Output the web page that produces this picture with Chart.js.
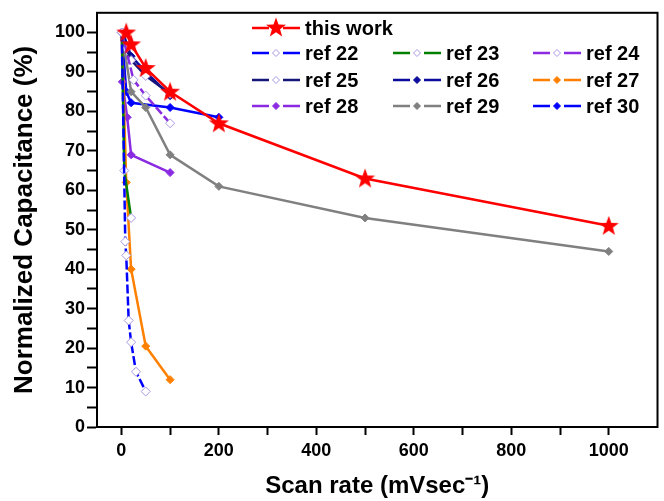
<!DOCTYPE html>
<html>
<head>
<meta charset="utf-8">
<script src="https://cdn.jsdelivr.net/npm/chart.js@4.4.0/dist/chart.umd.min.js"></script>
<style>
  body { margin: 0; background: #fff; }
  #wrap { width: 664px; height: 501px; }
</style>
</head>
<body>
<div id="wrap"><canvas id="myChart"></canvas></div>
<script>
// series data (scan rate in mV/s, normalized capacitance in %)
let seriesNames = ["this work", "ref 22", "ref 23", "ref 24", "ref 25", "ref 26", "ref 27", "ref 28", "ref 29", "ref 30"];

let rateThis = [10, 20, 50, 100, 200, 500, 1000];
let capThis = [100, 97, 91, 85, 77, 63, 51];

let rate22 = [1, 8, 10, 15, 20, 30, 50];
let cap22 = [100, 47, 43.5, 27, 21.5, 14, 9];

let rate23 = [1, 6, 20];
let cap23 = [100, 65, 53];

let rate24 = [1, 25, 50, 100];
let cap24 = [100, 88, 84, 77];

let rate25 = [1, 10, 20, 50, 100];
let cap25 = [100, 96, 93, 89, 84.5];

let rate26 = [3, 20, 50, 100];
let cap26 = [100, 94, 90, 84];

let rate27 = [1, 10, 20, 50, 100];
let cap27 = [100, 62, 40, 20.5, 12];

let rate28 = [1, 2, 12, 20, 100];
let cap28 = [100, 87.5, 78.5, 69, 64.5];

let rate29 = [1, 20, 50, 100, 200, 500, 1000];
let cap29 = [100, 85, 81, 69, 61, 53, 44.5];

let rate30 = [1, 10, 20, 100, 200];
let cap30 = [100, 85, 82.2, 81, 78.5];

let xTicks = [0, 200, 400, 600, 800, 1000];
let yTicks = [0, 10, 20, 30, 40, 50, 60, 70, 80, 90, 100];

function pts(xs, ys) {
  return xs.map((x, i) => ({ x: x, y: ys[i] }));
}

function starPath(c, cx, cy, ro, ri) {
  c.beginPath();
  for (let i = 0; i < 10; i++) {
    let r = i % 2 === 0 ? ro : ri;
    let a = -Math.PI / 2 + i * Math.PI / 5;
    let px = cx + r * Math.cos(a), py = cy + r * Math.sin(a);
    if (i === 0) c.moveTo(px, py); else c.lineTo(px, py);
  }
  c.closePath();
}

// filled red star used as the point style for "this work"
let starImg = document.createElement("canvas");
starImg.width = 22;
starImg.height = 22;
let sc = starImg.getContext("2d");
starPath(sc, 11, 11.5, 10.5, 4.3);
sc.fillStyle = "#ff0000";
sc.fill();

let openEdge = "#a898e0";

function openSeries(label, xs, ys, color, dashed) {
  return {
    label: label, data: pts(xs, ys), borderColor: color, borderWidth: 2.5,
    borderDash: dashed ? [9, 3] : [], pointStyle: "rectRot", pointRadius: 4.5,
    pointBackgroundColor: "#ffffff", pointBorderColor: openEdge, pointBorderWidth: 1,
    showLine: true, open: true
  };
}

function filledSeries(label, xs, ys, color) {
  return {
    label: label, data: pts(xs, ys), borderColor: color, borderWidth: 2.5,
    pointStyle: "rectRot", pointRadius: 4, pointBackgroundColor: color,
    pointBorderColor: color, pointBorderWidth: 1, showLine: true
  };
}

let datasets = [
  {
    label: seriesNames[0], data: pts(rateThis, capThis), borderColor: "#ff0000", borderWidth: 2.5,
    pointStyle: starImg, showLine: true, star: true
  },
  openSeries(seriesNames[1], rate22, cap22, "#0000ff", true),
  openSeries(seriesNames[2], rate23, cap23, "#008000", false),
  openSeries(seriesNames[3], rate24, cap24, "#8a2be2", true),
  openSeries(seriesNames[4], rate25, cap25, "#16167a", false),
  filledSeries(seriesNames[5], rate26, cap26, "#0c0c9c"),
  filledSeries(seriesNames[6], rate27, cap27, "#ff8000"),
  filledSeries(seriesNames[7], rate28, cap28, "#8a2be2"),
  filledSeries(seriesNames[8], rate29, cap29, "#808080"),
  filledSeries(seriesNames[9], rate30, cap30, "#0000ff"),
];

// legend spots: "this work" alone on row 0, refs in three columns after it
let legendRows = [28, 53, 80, 106];
let legendCols = [252, 393, 533];

let legendPlugin = {
  id: "boxLegend",
  afterDraw(chart) {
    let c = chart.ctx;
    c.save();
    chart.data.datasets.forEach((ds, i) => {
      let row = i === 0 ? 0 : Math.floor((i - 1) / 3) + 1;
      let col = i === 0 ? 0 : (i - 1) % 3;
      let x0 = legendCols[col], y = legendRows[row];
      let mid = x0 + 24;
      c.strokeStyle = ds.borderColor;
      c.lineWidth = 2.5;
      c.setLineDash([]);
      c.beginPath();
      c.moveTo(x0, y); c.lineTo(mid - 7, y);
      c.moveTo(mid + 7, y); c.lineTo(x0 + 48, y);
      c.stroke();
      if (ds.star) {
        starPath(c, mid, y, 10.5, 4.3);
        c.fillStyle = ds.borderColor;
        c.fill();
      } else {
        let r = 3.5;
        c.beginPath();
        c.moveTo(mid, y - r); c.lineTo(mid + r, y); c.lineTo(mid, y + r); c.lineTo(mid - r, y);
        c.closePath();
        c.fillStyle = ds.open ? "#ffffff" : ds.borderColor;
        c.fill();
        c.lineWidth = 1;
        c.strokeStyle = ds.open ? openEdge : ds.borderColor;
        c.stroke();
      }
      c.fillStyle = "#000";
      c.font = "bold 20px 'Liberation Sans', Arial, sans-serif";
      c.textBaseline = "middle";
      c.fillText(ds.label, x0 + 53, y + 1);
    });
    c.restore();
  }
};

let framePlugin = {
  id: "frame",
  beforeDatasetsDraw(chart) {
    let a = chart.chartArea, c = chart.ctx;
    c.save();
    c.strokeStyle = "#000";
    c.lineWidth = 2;
    c.strokeRect(a.left, a.top, a.right - a.left, a.bottom - a.top);
    c.restore();
  }
};

let tickFont = { family: "'Liberation Sans', Arial, sans-serif", size: 18, weight: "bold" };

let ctx = document.getElementById("myChart").getContext("2d");
let myChart = new Chart(ctx, {
  type: "scatter",
  data: { datasets: datasets },
  plugins: [framePlugin, legendPlugin],
  options: {
    responsive: true,
    maintainAspectRatio: false,
    animation: false,
    layout: { padding: { top: 12, right: 2, left: 0, bottom: 0 } },
    plugins: { legend: { display: false }, tooltip: { enabled: false } },
    scales: {
      x: {
        type: "linear",
        min: -50,
        max: 1100,
        afterFit: (s) => { s.height = 74; },
        afterBuildTicks: (s) => {
          let t = [];
          for (let v = 0; v <= 1000; v += 100) t.push({ value: v });
          s.ticks = t;
        },
        ticks: {
          color: "#000",
          font: tickFont,
          padding: 5,
          maxRotation: 0,
          autoSkip: false,
          callback: (v) => (xTicks.includes(v) ? String(v) : ""),
        },
        grid: { drawOnChartArea: false, color: "#000", tickLength: 8, tickWidth: 2 },
        border: { color: "#000", width: 2 },
        title: {
          display: true,
          text: "Scan rate (mVsec\u207B\u00B9)",
          color: "#000",
          font: { family: "'Liberation Sans', Arial, sans-serif", size: 24, weight: "bold" },
          padding: { top: 0, bottom: 0 },
        },
      },
      y: {
        type: "linear",
        min: 0,
        max: 105,
        afterFit: (s) => { s.width = 97; },
        afterBuildTicks: (s) => {
          let t = [];
          for (let v = 0; v <= 100; v += 5) t.push({ value: v });
          s.ticks = t;
        },
        ticks: {
          color: "#000",
          font: tickFont,
          padding: 2,
          autoSkip: false,
          callback: (v) => (yTicks.includes(v) ? String(v) : ""),
        },
        grid: { drawOnChartArea: false, color: "#000", tickLength: 10, tickWidth: 2 },
        border: { color: "#000", width: 2 },
        title: {
          display: true,
          text: "Normalized Capacitance (%)",
          color: "#000",
          font: { family: "'Liberation Sans', Arial, sans-serif", size: 26, weight: "bold" },
          padding: { top: 9, bottom: 0 },
        },
      },
    },
  },
});
</script>
</body>
</html>
